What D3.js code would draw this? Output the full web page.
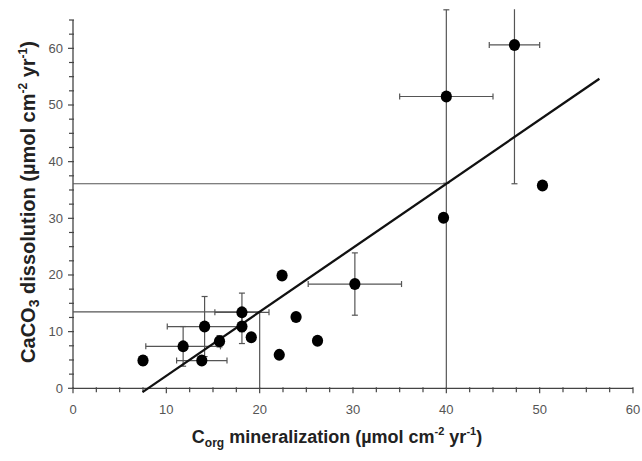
<!DOCTYPE html>
<html lang="en">
<head>
<meta charset="UTF-8">
<title>CaCO3 dissolution vs Corg mineralization</title>
<script src="https://cdn.jsdelivr.net/npm/d3@7"></script>
<style>
  body { margin: 0; background: #fff; }
  text { font-family: "Liberation Sans", Arial, sans-serif; }
</style>
</head>
<body>
<svg class="chart"></svg>
<script>
// data
const corg   = [7.5, 11.8, 13.8, 14.1, 15.7, 18.1, 18.1, 19.1, 22.1, 22.4, 23.9, 26.2, 30.2, 39.7, 40.0, 47.3, 50.3];
const caco3  = [4.9, 7.4, 4.9, 10.9, 8.3, 13.4, 10.9, 9.0, 5.9, 19.9, 12.6, 8.4, 18.4, 30.1, 51.5, 60.6, 35.8];
const corgErr  = [0, 4.0, 2.7, 4.0, 0, 2.9, 0, 0, 0, 0, 0, 0, 5.0, 0, 5.0, 2.7, 0];
const caco3Err = [0.8, 3.5, 0.6, 5.3, 1.0, 3.4, 3.0, 0, 0, 0, 0, 0, 5.5, 0, 15.3, 24.5, 0];

// regression line  y = slope * x + intercept
const slope = 1.13;
const intercept = -9.1;
const fitRange = [7.45, 56.4];
const dropAt = [20, 40];

const xTicks = [0, 10, 20, 30, 40, 50, 60];
const yTicks = [0, 10, 20, 30, 40, 50, 60];

// basic config
const width = 642, height = 461;
const svg = d3.select(".chart").attr("width", width).attr("height", height);

const x = d3.scaleLinear().domain([0, 60]).range([73, 633]);
const y = d3.scaleLinear().domain([0, 65]).range([388.3, 20]);
const fit = v => slope * v + intercept;

const axisColor = "#444";

// axes
const xAxis = svg.append("g").attr("transform", `translate(0,${y(0)})`);
xAxis.append("line").attr("x1", x(0)).attr("x2", x(60))
  .attr("stroke", axisColor).attr("stroke-width", 1.3);
xAxis.selectAll("line.minor").data(d3.range(0, 60.01, 2.5)).join("line")
  .attr("class", "minor")
  .attr("x1", d => x(d)).attr("x2", d => x(d))
  .attr("y1", -1).attr("y2", d => d % 10 === 0 ? 5 : 4)
  .attr("stroke", axisColor).attr("stroke-width", 1.2);
xAxis.selectAll("text").data(xTicks).join("text")
  .attr("x", d => x(d)).attr("y", 26)
  .attr("text-anchor", "middle")
  .attr("font-size", 13).attr("fill", "#555")
  .text(d => d);

const yAxis = svg.append("g").attr("transform", `translate(${x(0)},0)`);
yAxis.append("line").attr("y1", y(0)).attr("y2", y(65))
  .attr("stroke", axisColor).attr("stroke-width", 1.3);
yAxis.selectAll("line.minor").data(d3.range(0, 65.01, 2.5)).join("line")
  .attr("class", "minor")
  .attr("y1", d => y(d)).attr("y2", d => y(d))
  .attr("x1", d => d % 10 === 0 ? -5 : -4).attr("x2", 1)
  .attr("stroke", axisColor).attr("stroke-width", 1.2);
yAxis.selectAll("text").data(yTicks).join("text")
  .attr("x", -10).attr("y", d => y(d) + 4.5)
  .attr("text-anchor", "end")
  .attr("font-size", 13).attr("fill", "#555")
  .text(d => d);

// axis titles
const xTitle = svg.append("text")
  .attr("x", 337).attr("y", 443)
  .attr("text-anchor", "middle")
  .attr("font-size", 18).attr("font-weight", "bold").attr("fill", "#222");
xTitle.append("tspan").text("C");
xTitle.append("tspan").attr("dy", 4).attr("font-size", 12).text("org");
xTitle.append("tspan").attr("dy", -4).text(" mineralization (µmol cm");
xTitle.append("tspan").attr("dy", -8).attr("font-size", 11).text("-2");
xTitle.append("tspan").attr("dy", 8).text(" yr");
xTitle.append("tspan").attr("dy", -8).attr("font-size", 11).text("-1");
xTitle.append("tspan").attr("dy", 8).text(")");

const yTitle = svg.append("text")
  .attr("transform", `translate(35,${202}) rotate(-90)`)
  .attr("text-anchor", "middle")
  .attr("font-size", 20).attr("font-weight", "bold").attr("fill", "#222");
yTitle.append("tspan").text("CaCO");
yTitle.append("tspan").attr("dy", 4).attr("font-size", 14).text("3");
yTitle.append("tspan").attr("dy", -4).text(" dissolution (µmol cm");
yTitle.append("tspan").attr("dy", -8).attr("font-size", 12).text("-2");
yTitle.append("tspan").attr("dy", 8).text(" yr");
yTitle.append("tspan").attr("dy", -8).attr("font-size", 12).text("-1");
yTitle.append("tspan").attr("dy", 8).text(")");

// drop lines from the fit at x = 20 and 40
const drops = svg.append("g").attr("stroke", "#555").attr("stroke-width", 1.2);
drops.selectAll("line.h").data(dropAt).join("line").attr("class", "h")
  .attr("x1", x(0)).attr("x2", d => x(d))
  .attr("y1", d => y(fit(d))).attr("y2", d => y(fit(d)));
drops.selectAll("line.v").data(dropAt).join("line").attr("class", "v")
  .attr("x1", d => x(d)).attr("x2", d => x(d))
  .attr("y1", y(0)).attr("y2", d => y(fit(d)));

// error bars
const pts = corg.map((c, i) => ({ x: c, y: caco3[i], ex: corgErr[i], ey: caco3Err[i] }));
const yMaxDraw = 66.9;
const err = svg.append("g").attr("stroke", "#555").attr("stroke-width", 1.2).attr("fill", "none");
const cap = 3;
pts.filter(d => d.ex > 0).forEach(d => {
  err.append("line").attr("x1", x(d.x - d.ex)).attr("x2", x(d.x + d.ex))
    .attr("y1", y(d.y)).attr("y2", y(d.y));
  [d.x - d.ex, d.x + d.ex].forEach(v => err.append("line")
    .attr("x1", x(v)).attr("x2", x(v))
    .attr("y1", y(d.y) - cap).attr("y2", y(d.y) + cap));
});
pts.filter(d => d.ey > 0).forEach(d => {
  const top = Math.min(d.y + d.ey, yMaxDraw);
  err.append("line").attr("x1", x(d.x)).attr("x2", x(d.x))
    .attr("y1", y(d.y - d.ey)).attr("y2", y(top));
  const ends = [d.y - d.ey];
  if (d.y + d.ey <= yMaxDraw) ends.push(d.y + d.ey);
  ends.forEach(v => err.append("line")
    .attr("x1", x(d.x) - cap).attr("x2", x(d.x) + cap)
    .attr("y1", y(v)).attr("y2", y(v)));
});

// regression line
svg.append("line")
  .attr("x1", x(fitRange[0])).attr("y1", y(fit(fitRange[0])))
  .attr("x2", x(fitRange[1])).attr("y2", y(fit(fitRange[1])))
  .attr("stroke", "#111").attr("stroke-width", 2.3);

// points
svg.append("g").selectAll("ellipse").data(pts).join("ellipse")
  .attr("cx", d => x(d.x)).attr("cy", d => y(d.y))
  .attr("rx", 5.6).attr("ry", 6)
  .attr("fill", "#000");
</script>
</body>
</html>
